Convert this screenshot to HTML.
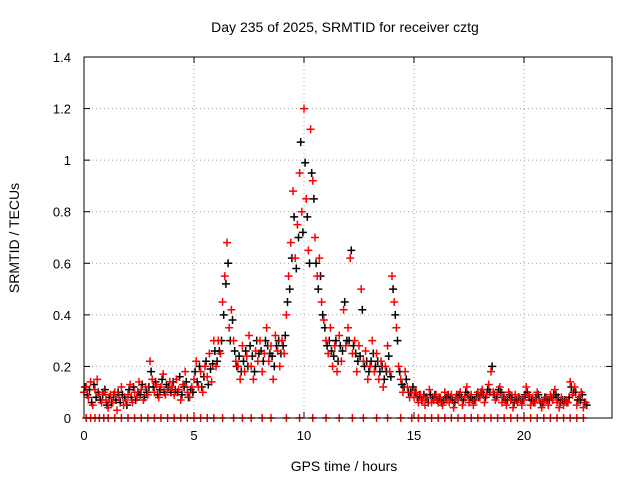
<!DOCTYPE html>
<html><head><meta charset="utf-8"><style>
body{margin:0;background:#fff;}
svg{display:block;font-family:"Liberation Sans",sans-serif;}
</style></head><body>
<svg id="chart" width="640" height="480" viewBox="0 0 640 480" xmlns="http://www.w3.org/2000/svg"></svg>
<script>
const xTicks=[0,5,10,15,20];
const yTicks=[0,0.2,0.4,0.6,0.8,1,1.2,1.4];
const yTickLabels=["0","0.2","0.4","0.6","0.8","1","1.2","1.4"];
const redValues=[
0.10,0.12,0.08,0.14,0.05,0.11,0.15,0.09,0.06,0.10,
0.07,0.04,0.09,0.06,0.10,0.03,0.08,0.12,0.05,0.07,
0.09,0.13,0.06,0.10,0.08,0.14,0.11,0.07,0.12,0.09,
0.22,0.15,0.10,0.13,0.08,0.12,0.17,0.09,0.11,0.14,
0.12,0.09,0.15,0.11,0.07,0.13,0.18,0.10,0.08,0.12,
0.15,0.22,0.12,0.18,0.10,0.20,0.16,0.25,0.14,0.30,
0.20,0.30,0.25,0.45,0.55,0.68,0.35,0.42,0.30,0.22,
0.20,0.15,0.28,0.18,0.24,0.32,0.20,0.15,0.26,0.22,
0.30,0.18,0.25,0.35,0.22,0.28,0.15,0.32,0.26,0.20,
0.30,0.25,0.40,0.55,0.68,0.88,0.62,0.75,0.95,0.80,
1.20,0.85,0.65,1.12,0.92,0.70,0.55,0.62,0.45,0.38,
0.30,0.25,0.35,0.20,0.28,0.18,0.32,0.22,0.42,0.28,
0.35,0.62,0.25,0.30,0.18,0.28,0.50,0.22,0.26,0.15,
0.20,0.30,0.18,0.25,0.15,0.22,0.12,0.20,0.28,0.18,
0.55,0.45,0.35,0.20,0.15,0.10,0.18,0.12,0.08,0.10,
0.08,0.10,0.06,0.09,0.07,0.05,0.08,0.11,0.06,0.07,
0.09,0.06,0.08,0.05,0.10,0.07,0.06,0.09,0.04,0.08,
0.07,0.10,0.05,0.08,0.12,0.06,0.09,0.05,0.07,0.10,
0.08,0.11,0.06,0.09,0.13,0.18,0.10,0.07,0.09,0.12,
0.06,0.08,0.05,0.10,0.07,0.04,0.09,0.06,0.08,0.05,
0.07,0.12,0.09,0.05,0.08,0.06,0.10,0.07,0.04,0.06,
0.08,0.05,0.09,0.07,0.11,0.06,0.04,0.08,0.05,0.07,
0.06,0.14,0.09,0.12,0.05,0.08,0.10,0.04,0.06];
const blackValues=[
0.12,0.09,0.11,0.06,0.13,0.08,0.10,0.07,0.09,0.11,
0.05,0.08,0.06,0.09,0.07,0.10,0.06,0.09,0.08,0.05,
0.11,0.08,0.12,0.07,0.10,0.09,0.13,0.08,0.10,0.12,
0.18,0.12,0.14,0.09,0.11,0.15,0.10,0.13,0.12,0.10,
0.14,0.11,0.10,0.16,0.09,0.12,0.14,0.08,0.11,0.10,
0.18,0.14,0.20,0.12,0.16,0.22,0.13,0.19,0.21,0.26,
0.22,0.26,0.30,0.40,0.52,0.60,0.30,0.38,0.26,0.20,
0.24,0.18,0.22,0.26,0.20,0.28,0.24,0.18,0.30,0.25,
0.26,0.22,0.30,0.28,0.25,0.24,0.20,0.28,0.30,0.25,
0.28,0.32,0.45,0.50,0.62,0.78,0.58,0.70,1.07,0.72,
0.99,0.78,0.60,0.95,0.85,0.60,0.50,0.55,0.40,0.35,
0.28,0.30,0.26,0.24,0.30,0.22,0.28,0.26,0.45,0.30,
0.30,0.65,0.28,0.25,0.22,0.24,0.42,0.20,0.22,0.18,
0.22,0.25,0.20,0.22,0.18,0.20,0.15,0.18,0.24,0.16,
0.50,0.40,0.30,0.18,0.13,0.12,0.15,0.10,0.10,0.12,
0.10,0.08,0.09,0.07,0.09,0.08,0.06,0.09,0.08,0.09,
0.07,0.08,0.06,0.07,0.08,0.09,0.08,0.07,0.06,0.09,
0.09,0.08,0.07,0.10,0.09,0.08,0.07,0.07,0.09,0.08,
0.10,0.09,0.08,0.11,0.10,0.20,0.09,0.08,0.11,0.10,
0.08,0.07,0.07,0.09,0.08,0.06,0.07,0.08,0.07,0.07,
0.09,0.10,0.08,0.07,0.06,0.08,0.09,0.06,0.06,0.08,
0.07,0.07,0.08,0.09,0.09,0.08,0.06,0.07,0.07,0.06,
0.08,0.12,0.10,0.10,0.07,0.07,0.09,0.06,0.05];
const zeroTimes=[0.1,0.3,0.5,0.7,0.9,1.1,1.4,1.7,2.0,2.3,2.6,2.9,3.2,3.5,3.8,4.1,4.4,4.7,5.0,5.3,5.6,5.9,6.3,6.8,7.2,7.6,8.1,8.5,9.2,9.8,10.4,11.0,11.6,12.2,12.7,13.3,13.8,14.4,14.9,15.2,15.5,15.8,16.1,16.4,16.7,17.0,17.3,17.6,17.9,18.2,18.5,18.8,19.1,19.4,19.7,20.0,20.3,20.6,20.9,21.2,21.5,21.8,22.1,22.4,22.7];
const startHour=0, stepHour=0.1;

const L=84,R=612,T=57,B=418,xMax=24,yMax=1.4;
const xs=v=>L+(v/xMax)*(R-L);
const ys=v=>B-(v/yMax)*(B-T);
const NS="http://www.w3.org/2000/svg";
const svg=document.getElementById('chart');
function mk(tag,attrs,parent){const e=document.createElementNS(NS,tag);for(const k in attrs)e.setAttribute(k,attrs[k]);(parent||svg).appendChild(e);return e;}

const grid=mk('g',{});


xTicks.forEach(t=>{if(t>0){mk('line',{x1:xs(t),x2:xs(t),y1:T,y2:B,stroke:'#a0a0a0','stroke-dasharray':'1,3','stroke-width':1},grid);}});
yTicks.forEach(t=>{if(t>0&&t<yMax){mk('line',{x1:L,x2:R,y1:ys(t),y2:ys(t),stroke:'#a0a0a0','stroke-dasharray':'1,3','stroke-width':1},grid);}});

const ticks=mk('g',{stroke:'#000','stroke-width':1});


xTicks.forEach((t,i)=>{
  mk('line',{x1:xs(t),x2:xs(t),y1:B,y2:B-6},ticks);
  mk('line',{x1:xs(t),x2:xs(t),y1:T,y2:T+6},ticks);
  const tx=mk('text',{x:xs(t),y:B+22,'text-anchor':'middle','font-size':13,fill:'#000',stroke:'none'});
  tx.textContent=String(t);
  
  
});
yTicks.forEach((t,i)=>{
  mk('line',{x1:L,x2:L+6,y1:ys(t),y2:ys(t)},ticks);
  mk('line',{x1:R,x2:R-6,y1:ys(t),y2:ys(t)},ticks);
  const tx=mk('text',{x:L-13,y:ys(t)+5,'text-anchor':'end','font-size':13,fill:'#000',stroke:'none'});
  tx.textContent=yTickLabels[i];
  
  
});

function plus(g,x,y,color){
  mk('path',{d:`M${x-4},${y}H${x+4}M${x},${y-4}V${y+4}`,stroke:color,'stroke-width':1.5,fill:'none'},g);
}
const blk=mk('g',{});


blackValues.forEach((v,i)=>plus(blk,xs(startHour+i*stepHour+0.05),ys(v),'#000'));
const red=mk('g',{});


redValues.forEach((v,i)=>plus(red,xs(startHour+i*stepHour),ys(v),'#ff0000'));
const zr=mk('g',{});


zeroTimes.forEach(t=>plus(zr,xs(t),ys(0),'#ff0000'));

const frame=mk('rect',{x:L,y:T,width:R-L,height:B-T,fill:'none',stroke:'#000','stroke-width':1});



const title=mk('text',{x:345,y:32,'text-anchor':'middle','font-size':14,fill:'#000'});
title.textContent='Day 235 of 2025, SRMTID for receiver cztg';


const xl=mk('text',{x:344,y:471,'text-anchor':'middle','font-size':14,fill:'#000'});
xl.textContent='GPS time / hours';


const yl=mk('text',{x:0,y:0,'text-anchor':'middle','font-size':14,fill:'#000',transform:'translate(19,238) rotate(-90)'});
yl.textContent='SRMTID / TECUs';


</script>
</body></html>
